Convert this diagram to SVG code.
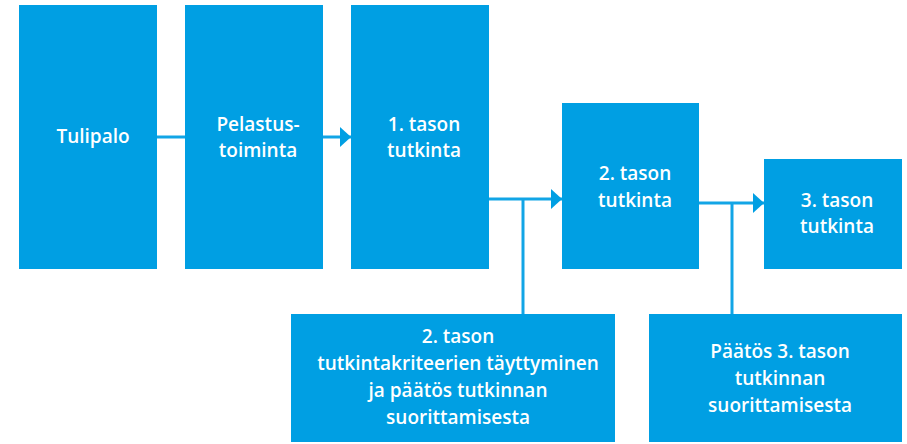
<svg xmlns="http://www.w3.org/2000/svg" width="907" height="444" viewBox="0 0 907 444">
<defs>
<style>
.box{fill:#009fe3;}
.lbl{fill:#ffffff;font-family:"Open Sans","Liberation Sans",sans-serif;font-weight:600;font-size:19px;text-anchor:middle;}
.con{stroke:#12a5e6;stroke-width:3;fill:none;}
</style>
<marker id="arr" markerUnits="userSpaceOnUse" markerWidth="12" markerHeight="20" refX="11" refY="10" orient="auto">
<path d="M0,0 L11,10 L0,20 Z" fill="#009fe3"/>
</marker>
</defs>
<rect width="907" height="444" fill="#ffffff"/>
<g id="connectors">
<line class="con" x1="157" y1="137" x2="185" y2="137"/>
<line class="con" x1="323" y1="137" x2="351" y2="137" marker-end="url(#arr)"/>
<line class="con" x1="489" y1="199" x2="562" y2="199" marker-end="url(#arr)"/>
<line class="con" x1="523" y1="199" x2="523" y2="314"/>
<line class="con" x1="699" y1="203" x2="764" y2="203" marker-end="url(#arr)"/>
<line class="con" x1="732" y1="203" x2="732" y2="314"/>
</g>
<g id="tulipalo">
<rect class="box" x="19" y="5" width="138" height="264"/>
<text class="lbl" x="93" y="143">Tulipalo</text>
</g>
<g id="pelastustoiminta">
<rect class="box" x="185" y="5" width="138" height="264"/>
<text class="lbl" x="258" y="131">Pelastus-</text>
<text class="lbl" x="258" y="157">toiminta</text>
</g>
<g id="tason1">
<rect class="box" x="351" y="5" width="138" height="264"/>
<text class="lbl" x="424" y="131">1. tason</text>
<text class="lbl" x="424" y="157">tutkinta</text>
</g>
<g id="tason2">
<rect class="box" x="562" y="103" width="137" height="166"/>
<text class="lbl" x="635" y="180">2. tason</text>
<text class="lbl" x="635" y="207">tutkinta</text>
</g>
<g id="tason3">
<rect class="box" x="764" y="159" width="138" height="110"/>
<text class="lbl" x="837" y="207">3. tason</text>
<text class="lbl" x="837" y="233">tutkinta</text>
</g>
<g id="kriteerit">
<rect class="box" x="291" y="314" width="324" height="128"/>
<text class="lbl" x="458" y="343">2. tason</text>
<text class="lbl" x="458" y="370">tutkintakriteerien täyttyminen</text>
<text class="lbl" x="458" y="397">ja päätös tutkinnan</text>
<text class="lbl" x="458" y="424">suorittamisesta</text>
</g>
<g id="paatos3">
<rect class="box" x="649" y="314" width="253" height="128"/>
<text class="lbl" x="780" y="358">Päätös 3. tason</text>
<text class="lbl" x="780" y="385">tutkinnan</text>
<text class="lbl" x="780" y="412">suorittamisesta</text>
</g>
</svg>
